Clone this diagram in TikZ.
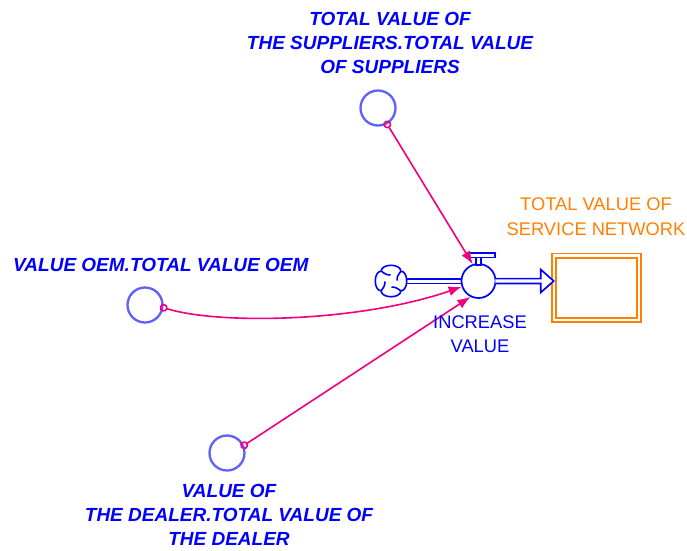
\documentclass[tikz,border=0pt]{standalone}
\usepackage{fontspec}
\setmainfont{Liberation Sans}
\usetikzlibrary{arrows.meta,calc}

\definecolor{flowblue}{RGB}{0,0,255}
\definecolor{auxblue}{RGB}{95,95,255}
\definecolor{linkpink}{RGB}{240,0,125}
\definecolor{stockorange}{RGB}{255,128,0}

\tikzset{
  auxvar/.style={circle, draw=auxblue, line width=2.3pt, minimum size=35pt, inner sep=0pt},
  auxlabel/.style={text=flowblue, font=\fontsize{19}{24}\selectfont\bfseries\itshape,
    align=center, inner sep=0pt, anchor=base},
  flowlabel/.style={text=flowblue, font=\fontsize{18.3}{24}\selectfont,
    align=center, inner sep=0pt, anchor=base},
  stocklabel/.style={text=stockorange, font=\fontsize{18.3}{25}\selectfont,
    align=center, inner sep=0pt, anchor=base},
  stockbox/.style={draw=stockorange, double=white, line width=1.9pt, double distance=2.2pt,
    minimum width=85pt, minimum height=64.5pt, inner sep=0pt, outer sep=0pt},
  valvebody/.style={circle, draw=flowblue, line width=1.7pt, fill=white,
    minimum size=34pt, inner sep=0pt},
  cloudspot/.style={circle, minimum size=32pt, inner sep=0pt},
  pipe/.style={draw=flowblue, line width=1.7pt},
  link/.style={draw=linkpink, line width=1.6pt,
    {Circle[open,length=8pt,width=8pt]}-{Latex[length=13pt,width=10pt]}},
}

\begin{document}
\begin{tikzpicture}[x=1pt,y=-1pt]
  \useasboundingbox (0,0) rectangle (687,550);

  % auxiliary variables
  \node[auxvar] (sup) at (378,108) {};
  \node[auxvar] (oem) at (145,305) {};
  \node[auxvar] (dealer) at (227,453) {};

  % source cloud, valve and stock
  \node[cloudspot] (src) at (391,281) {};
  \node[stockbox] (stock) at (596.2,287.75) {};

  % inflow pipe (drawn before the valve body covers its end)
  \draw[pipe, double=white, double distance=3pt] (src.east) -- (src.east -| 461,0);

  \node[valvebody] (valve) at (478.5,281) {};

  % valve handle
  \draw[pipe, fill=white] ($(valve.center)+(-2.5,-16)$) rectangle ($(valve.center)+(2.5,-23.5)$);
  \draw[pipe, fill=white] ($(valve.center)+(-10.5,-23.5)$) rectangle ($(valve.center)+(16.5,-28)$);

  % cloud: rounded outline with four notches and swirl strokes
  \begin{scope}[shift={(src.center)}, flowblue, line width=1.6pt]
    \draw (45:14) .. controls (62:20) and (118:20) .. (135:14)
                  .. controls (152:20) and (208:20) .. (225:14)
                  .. controls (242:20) and (298:20) .. (315:14)
                  .. controls (332:20) and (28:20) .. (45:14);
    \foreach \a in {45,135,225,315}
      \draw (\a:14) .. controls (\a+8:8) .. (\a+40:6);
  \end{scope}

  % outflow pipe with its arrowhead
  \coordinate (tip) at (stock.west |- valve.east);
  \draw[pipe, fill=white, line join=miter]
    ($(valve.east)+(-1,-2.4)$) -- ($(tip)+(-13,-2.4)$) -- ($(tip)+(-13,-11.5)$)
    -- (tip) -- ($(tip)+(-13,11.5)$) -- ($(tip)+(-13,2.4)$) -- ($(valve.east)+(-1,2.4)$);

  % links
  \draw[link] ($(sup.center)!0.8!(sup.-61)$) -- (valve.109.5);
  \draw[link] ($(oem.center)!0.8!(oem.-6)$) .. controls (220,325) and (360,322) .. (valve.199);
  \draw[link] ($(dealer.center)!0.8!(dealer.22)$) -- (valve.243);

  % labels (anchored at the baseline of their last line)
  \node[auxlabel] (supl) at (390,73) {TOTAL VALUE OF\\THE SUPPLIERS.TOTAL VALUE\\OF SUPPLIERS};
  \node[auxlabel, anchor=base west] (oeml) at (13,271) {VALUE OEM.TOTAL VALUE OEM};
  \node[auxlabel] (deall) at (229,545) {VALUE OF\\THE DEALER.TOTAL VALUE OF\\THE DEALER};
  \node[stocklabel] (stockl) at (596,235) {TOTAL VALUE OF\\SERVICE NETWORK};
  \node[flowlabel] (valvel) at (480,352) {INCREASE\\VALUE};
\end{tikzpicture}
\end{document}
